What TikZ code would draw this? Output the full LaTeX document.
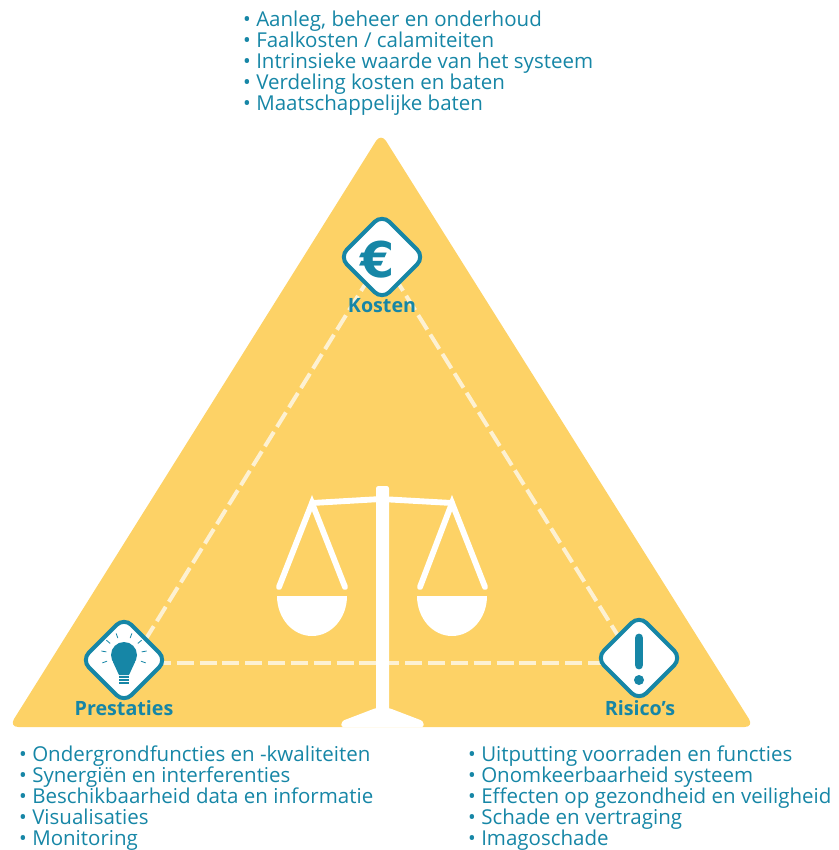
\documentclass[tikz,border=0pt]{standalone}
\usepackage{fontspec}
\setmainfont{Open Sans}
\newfontfamily\eurofont{DejaVu Sans}
\usepackage{xcolor}
\usetikzlibrary{shapes.geometric,calc,backgrounds}
\definecolor{tealblue}{HTML}{1686A6}
\definecolor{triyellow}{HTML}{FDD266}
\definecolor{dashcream}{HTML}{FDF1D2}
\tikzset{
  iconbox/.style={diamond,draw=tealblue,line width=3.4pt,fill=white,rounded corners=9pt,minimum width=74pt,minimum height=74pt,inner sep=0pt},
  cornerlabel/.style={text=tealblue,font=\fontsize{16.8}{19}\selectfont\bfseries,inner sep=0pt},
  itemlist/.style={text=tealblue,font=\fontsize{17.5}{17.85}\selectfont,align=left,anchor=north west,inner sep=0pt},
  dashline/.style={dashcream,line width=3.4pt,dash pattern=on 14.5pt off 5pt},
  scalepart/.style={white,line width=5pt,line cap=round}
}
\begin{document}
\begin{tikzpicture}[x=0.03cm,y=-0.03cm]
\useasboundingbox (0,0) rectangle (838,850);

\node [iconbox] (kosten) at (382,257) {};
\node [iconbox] (prestaties) at (124,660) {};
\node [iconbox] (risicos) at (639,658) {};

\begin{pgfonlayer}{background}
\fill [triyellow,rounded corners=8pt] (381,133)--(754,727)--(9,727)--cycle;
\draw [dashline] (kosten.center)--([shift={(7,3)}]prestaties.center);
\draw [dashline] (kosten.center)--([shift={(-4,5)}]risicos.center);
\draw [dashline] ([shift={(7,3)}]prestaties.center)--([shift={(-4,5)}]risicos.center);
\end{pgfonlayer}

\node [text=tealblue,font=\fontsize{42}{42}\selectfont\eurofont\bfseries,inner sep=0pt] (euro) at (378,260) {€};
\node [cornerlabel] (kostenlabel) at (382,306) {Kosten};
\node [cornerlabel] (prestatieslabel) at (124,708) {Prestaties};
\node [cornerlabel] (risicoslabel) at (640,708) {Risico’s};

% lamp
\fill [tealblue] (124,655) circle (13);
\fill [tealblue] (113,662)--(135,662)--(129,675)--(119,675)--cycle;
\foreach \y in {677,680,683}
  \draw [tealblue,line width=1.5pt] (119,\y)--(129,\y);
\foreach \a in {-170,-140,-110,-70,-40,-10,20,160}
  \draw [tealblue,line width=0.7pt] ($(124,655)+(\a:18)$)--($(124,655)+(\a:23)$);

% uitroepteken
\draw [tealblue,line width=7.6pt,line cap=round] (639,638)--(639,665);
\fill [tealblue] (639,680) circle (5);

% weegschaal
\fill [white,rounded corners=2pt] (376,486)--(389,486)--(389,712)--(376,712)--cycle;
\fill [white,rounded corners=2pt] (376,708)--(389,708)--(423,721)--(424,727)--(341,727)--(342,721)--cycle;
\draw [scalepart] (312,503)--(381,499)--(452,503);
\draw [scalepart] (279,587)--(312,503)--(345,587);
\draw [scalepart] (420,587)--(452,503)--(485,587);
\fill [white] (277,596) arc (180:0:35 and 40) -- cycle;
\fill [white] (417,596) arc (180:0:35 and 40) -- cycle;

\node [itemlist] (kostenlist) at (243,11) {• Aanleg, beheer en onderhoud\\• Faalkosten / calamiteiten\\• Intrinsieke waarde van het systeem\\• Verdeling kosten en baten\\• Maatschappelijke baten};
\node [itemlist] (prestatieslist) at (19,746) {• Ondergrondfuncties en -kwaliteiten\\• Synergiën en interferenties\\• Beschikbaarheid data en informatie\\• Visualisaties\\• Monitoring};
\node [itemlist] (risicoslist) at (468,746) {• Uitputting voorraden en functies\\• Onomkeerbaarheid systeem\\• Effecten op gezondheid en veiligheid\\• Schade en vertraging\\• Imagoschade};
\end{tikzpicture}
\end{document}
